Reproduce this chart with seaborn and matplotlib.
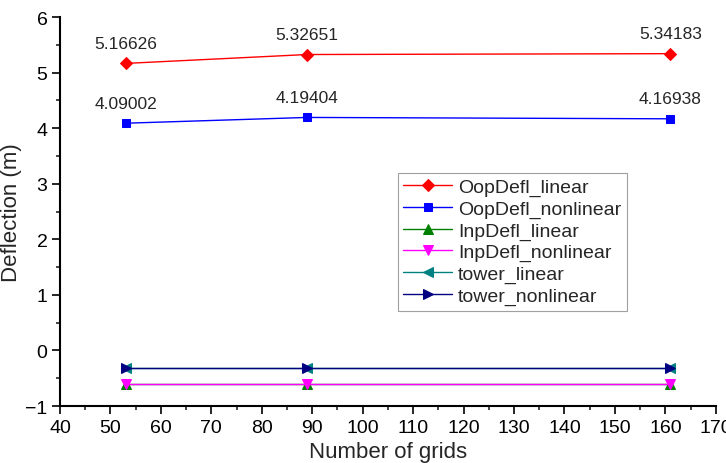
import matplotlib
matplotlib.use("Agg")
import matplotlib.pyplot as plt
from matplotlib.ticker import MultipleLocator, AutoMinorLocator
import seaborn as sns
import pandas as pd

grids = [53, 89, 161]
oop_linear = [5.16626, 5.32651, 5.34183]
oop_nonlinear = [4.09002, 4.19404, 4.16938]
inp_linear = [-0.61, -0.61, -0.61]
inp_nonlinear = [-0.60, -0.60, -0.60]
tower_linear = [-0.32, -0.32, -0.32]
tower_nonlinear = [-0.32, -0.32, -0.32]

series = [
    ("OopDefl_linear", oop_linear, "#ff0000", "D", 6),
    ("OopDefl_nonlinear", oop_nonlinear, "#0000ff", "s", 6),
    ("InpDefl_linear", inp_linear, "#008000", "^", 7),
    ("InpDefl_nonlinear", inp_nonlinear, "#ff00ff", "v", 7),
    ("tower_linear", tower_linear, "#008080", "<", 7),
    ("tower_nonlinear", tower_nonlinear, "#000080", ">", 7),
]

sns.set_style("ticks")
plt.rcParams['font.family'] = ['Liberation Sans', 'DejaVu Sans']

fig = plt.figure(figsize=(7.26, 4.64), dpi=100)
ax = fig.add_axes([0.0826, 0.1228, 0.9034, 0.8382])

for name, vals, col, mk, ms in series:
    df = pd.DataFrame({"x": grids, "y": vals})
    sns.lineplot(data=df, x="x", y="y", ax=ax, color=col, marker=mk,
                 markersize=ms, markeredgecolor=col, linewidth=1.0,
                 label=name)

for xv, yv in zip(grids, oop_linear):
    ax.annotate(f"{yv:.5f}", (xv, yv), xytext=(0, 9), textcoords="offset points",
                ha="center", va="bottom", fontsize=12.5)
for xv, yv in zip(grids, oop_nonlinear):
    ax.annotate(f"{yv:.5f}", (xv, yv), xytext=(0, 9), textcoords="offset points",
                ha="center", va="bottom", fontsize=12.5)

ax.set_xlim(40, 170)
ax.set_ylim(-1, 6)
ax.xaxis.set_major_locator(MultipleLocator(10))
ax.xaxis.set_minor_locator(AutoMinorLocator(2))
ax.yaxis.set_major_locator(MultipleLocator(1))
ax.yaxis.set_minor_locator(AutoMinorLocator(2))
ax.tick_params(axis="both", which="major", direction="out", length=6, width=1.2,
               labelsize=14, colors="black", pad=3)
ax.tick_params(axis="both", which="minor", direction="out", length=3, width=1.2)
for s in ["left", "bottom"]:
    ax.spines[s].set_linewidth(1.5)
    ax.spines[s].set_color("black")
sns.despine(ax=ax)

ax.set_xlabel("Number of grids", fontsize=16)
ax.set_ylabel("Deflection (m)", fontsize=16, labelpad=2)

leg = ax.legend(loc="upper left", bbox_to_anchor=(0.50, 0.625), fontsize=14,
                frameon=True, fancybox=False, edgecolor="#888888",
                handlelength=2.5, borderpad=0.3, labelspacing=0.2,
                handletextpad=0.3)
leg.get_frame().set_linewidth(0.8)

fig.savefig("out.png", dpi=100)
